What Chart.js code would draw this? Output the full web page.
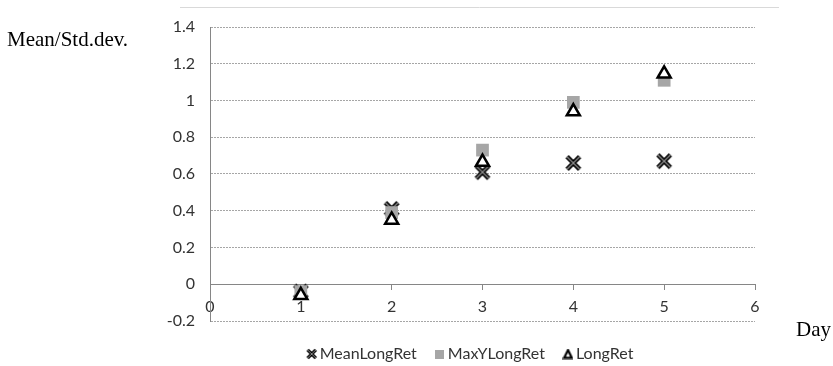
<!DOCTYPE html>
<html><head><meta charset="utf-8">
<script src="https://cdn.jsdelivr.net/npm/chart.js@4.4.0/dist/chart.umd.min.js"></script>
<style>html,body{margin:0;padding:0;background:#fff;}#wrap{position:relative;width:833px;height:366px;}canvas{display:block}</style>
</head><body><div id="wrap"><canvas id="c" width="833" height="366"></canvas></div>
<script>
const days = [1, 2, 3, 4, 5];
const meanLongRet = [-0.04, 0.41, 0.61, 0.66, 0.67];
const maxYLongRet = [-0.04, 0.39, 0.73, 0.99, 1.11];
const longRet = [-0.06, 0.35, 0.665, 0.94, 1.145];
const seriesNames = ['MeanLongRet', 'MaxYLongRet', 'LongRet'];
const yTicks = [-0.2, 0, 0.2, 0.4, 0.6, 0.8, 1, 1.2, 1.4];
const xTicks = [0, 1, 2, 3, 4, 5, 6];
const yTitle = 'Mean/Std.dev.';
const xTitle = 'Day';

const TICK_FONT = {family: 'Lato', size: 16};
const TEXT_COLOR = '#333333';

function makeX(size, lw) {
  const c = document.createElement('canvas');
  c.width = c.height = size;
  const g = c.getContext('2d');
  const m = lw * 0.6;
  g.beginPath();
  g.moveTo(m, m); g.lineTo(size - m, size - m);
  g.moveTo(size - m, m); g.lineTo(m, size - m);
  g.strokeStyle = '#000'; g.lineWidth = lw; g.stroke();
  g.strokeStyle = '#8a8a8a'; g.lineWidth = lw * 0.3; g.stroke();
  return c;
}
function makeSquare(size) {
  const c = document.createElement('canvas');
  c.width = c.height = size;
  const g = c.getContext('2d');
  g.fillStyle = '#a6a6a6'; g.fillRect(0, 0, size, size);
  return c;
}
function makeTri(w, h, lw) {
  const c = document.createElement('canvas');
  c.width = w; c.height = h;
  const g = c.getContext('2d');
  const p = lw / 2 + 0.5;
  g.beginPath();
  g.moveTo(w / 2, p); g.lineTo(w - p, h - p); g.lineTo(p, h - p); g.closePath();
  g.fillStyle = '#fff'; g.fill();
  g.strokeStyle = '#000'; g.lineWidth = lw; g.lineJoin = 'miter'; g.stroke();
  return c;
}
const dataX = makeX(18, 4.5);
const legendMarks = [makeX(12, 3.2), makeSquare(9), makeTri(11, 11, 2.2)];

const toPts = arr => days.map((d, i) => ({x: d, y: arr[i]}));

const extras = {
  id: 'extras',
  afterLayout(chart) {
    const lg = chart.legend;
    if (lg) { lg.left -= 10; lg.right -= 10; }
  },
  beforeDraw(chart) {
    const ctx = chart.ctx;
    ctx.save();
    ctx.strokeStyle = '#d9d9d9'; ctx.lineWidth = 1;
    ctx.beginPath(); ctx.moveTo(180, 7.5); ctx.lineTo(779, 7.5); ctx.stroke();
    ctx.restore();
  },
  afterDraw(chart) {
    const ctx = chart.ctx;
    ctx.save();
    ctx.fillStyle = '#000';
    ctx.font = '21px "Liberation Serif"';
    ctx.textBaseline = 'alphabetic';
    ctx.fillText(yTitle, 7, 46);
    ctx.fillText(xTitle, 796, 336);
    ctx.restore();
  }
};

new Chart(document.getElementById('c'), {
  type: 'scatter',
  data: {
    datasets: [
      {label: seriesNames[2], data: toPts(longRet), pointStyle: 'triangle', radius: 7.5, hoverRadius: 7.5,
       backgroundColor: '#ffffff', borderColor: '#000000', borderWidth: 2.5},
      {label: seriesNames[1], data: toPts(maxYLongRet), pointStyle: 'rect', radius: 9, hoverRadius: 9,
       backgroundColor: '#a6a6a6', borderColor: '#a6a6a6', borderWidth: 0},
      {label: seriesNames[0], data: toPts(meanLongRet), pointStyle: dataX, radius: 9, hoverRadius: 9,
       backgroundColor: '#000', borderColor: '#000', borderWidth: 0}
    ]
  },
  options: {
    responsive: false,
    animation: false,
    events: [],
    layout: {padding: {top: 27, right: 78, left: 0, bottom: -6}},
    scales: {
      x: {
        type: 'linear', position: {y: 0}, min: 0, max: 6,
        afterBuildTicks: s => { s.ticks = xTicks.map(v => ({value: v})); },
        ticks: {padding: 8, color: TEXT_COLOR, font: TICK_FONT},
        grid: {drawOnChartArea: false, drawTicks: true, tickLength: 5, color: '#868686'},
        border: {display: true, color: '#868686', width: 1}
      },
      y: {
        position: 'left', min: -0.2, max: 1.4,
        afterBuildTicks: s => { s.ticks = yTicks.map(v => ({value: v})); },
        afterFit: s => { s.width = 210; },
        ticks: {padding: 15, color: TEXT_COLOR, font: TICK_FONT,
                callback: v => String(Math.round(v * 10) / 10)},
        grid: {drawTicks: false, color: '#a6a6a6', lineWidth: 1},
        border: {display: true, color: '#868686', width: 1, dash: [2, 1]}
      }
    },
    plugins: {
      tooltip: {enabled: false},
      legend: {
        position: 'bottom', fullSize: false, reverse: true,
        title: {display: true, text: ' ', font: {size: 1}, padding: {top: 0.8, bottom: 0}},
        labels: {
          usePointStyle: true, pointStyleWidth: 0.01, boxHeight: 9, padding: 23,
          color: TEXT_COLOR, font: {family: 'Lato', size: 16},
          generateLabels(chart) {
            const items = Chart.defaults.plugins.legend.labels.generateLabels(chart);
            items.forEach(it => {
              const idx = seriesNames.indexOf(it.text);
              it.pointStyle = legendMarks[idx];
              it.lineWidth = 0;
            });
            return items;
          }
        }
      }
    }
  },
  plugins: [extras]
});
</script>
</body></html>
